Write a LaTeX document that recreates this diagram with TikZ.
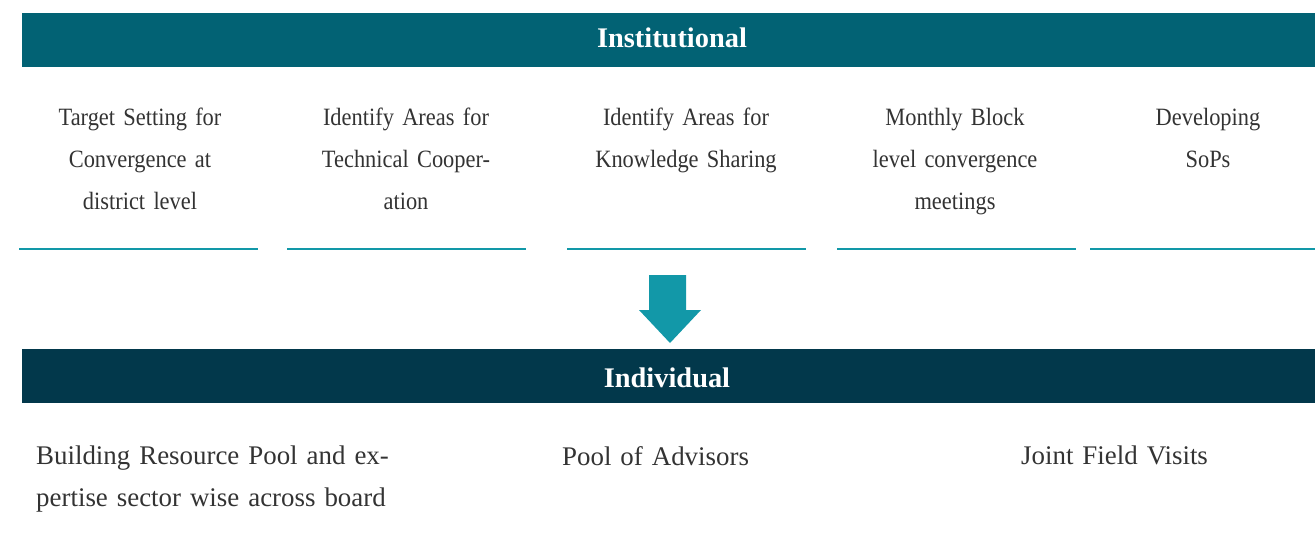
\documentclass[tikz,border=0pt]{standalone}
\usepackage{fontspec}
\setmainfont{Liberation Serif}
\newfontfamily\narrowserif[FakeStretch=0.9,WordSpace=0.8]{Liberation Serif}
\definecolor{instbar}{HTML}{026274}
\definecolor{indbar}{HTML}{02384B}
\definecolor{accent}{HTML}{1298A8}
\definecolor{bodytext}{HTML}{333333}
\tikzset{
  header/.style={fill=#1, minimum height=54bp, inner sep=0pt},
  headlbl/.style={text=white, inner sep=0pt, font=\fontsize{28.5}{32}\selectfont\bfseries},
  item/.style={anchor=north, inner sep=0pt, text width=240bp, align=center,
    text=bodytext, font=\narrowserif\fontsize{25}{42}\selectfont},
  bitem/.style={anchor=north west, inner sep=0pt, text width=400bp, align=left,
    text=bodytext, font=\fontsize{27}{42}\selectfont},
  rule/.style={draw=accent, line width=2bp},
}
\begin{document}
\begin{tikzpicture}[x=1bp,y=-1bp]
\useasboundingbox (0,0) rectangle (1315,540);
% header bars
\node[header, fill=instbar, minimum width=1293bp, anchor=north west] (inst) at (22,13) {};
\node[headlbl] (instlbl) at (672,38) {Institutional};
\node[header, fill=indbar, minimum width=1293bp, anchor=north west] (ind) at (22,349) {};
\node[headlbl] (indlbl) at (667,378) {Individual};
% top items
\node[item] (t1) at (140,108) {Target Setting for\\Convergence at\\district level};
\node[item] (t2) at (406,108) {Identify Areas for\\Technical Cooper-\\ation};
\node[item] (t3) at (686,108) {Identify Areas for\\Knowledge Sharing};
\node[item] (t4) at (955,108) {Monthly Block\\level convergence\\meetings};
\node[item] (t5) at (1208,108) {Developing\\SoPs};
% rules
\coordinate (r1a) at (19,249);   \coordinate (r1b) at (258,249);
\coordinate (r2a) at (287,249);  \coordinate (r2b) at (526,249);
\coordinate (r3a) at (567,249);  \coordinate (r3b) at (806,249);
\coordinate (r4a) at (837,249);  \coordinate (r4b) at (1076,249);
\coordinate (r5a) at (1090,249); \coordinate (r5b) at (1315,249);
\draw[rule] (r1a) -- (r1b);
\draw[rule] (r2a) -- (r2b);
\draw[rule] (r3a) -- (r3b);
\draw[rule] (r4a) -- (r4b);
\draw[rule] (r5a) -- (r5b);
% block arrow
\fill[accent] (649,275) -- (686,275) -- (686,310) -- (701,310) -- (670,343)
  -- (639,310) -- (649,310) -- cycle;
% bottom items
\node[bitem] (b1) at (36,446) {Building Resource Pool and ex-\\pertise sector wise across board};
\node[bitem] (b2) at (562,446) {Pool of Advisors};
\node[bitem] (b3) at (1021,446) {Joint Field Visits};
\end{tikzpicture}
\end{document}
